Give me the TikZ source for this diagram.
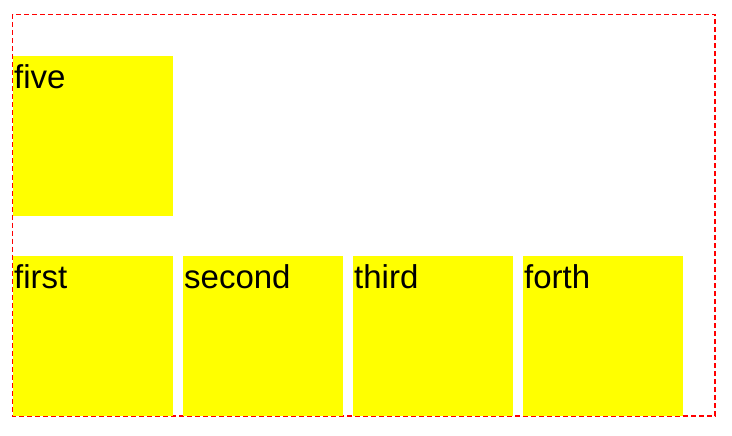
\documentclass[tikz,border=0pt]{standalone}
\usepackage{fontspec}
\setmainfont{Liberation Sans}
\definecolor{boxyellow}{RGB}{255,255,0}
\definecolor{borderred}{RGB}{255,0,0}
\begin{document}
\begin{tikzpicture}[x=1pt,y=-1pt,
    item/.style={fill=boxyellow, minimum width=160pt, minimum height=160pt,
        inner sep=0pt, anchor=north west},
    caption/.style={anchor=north west, inner sep=0pt,
        font=\fontsize{33}{33}\selectfont}]
        \useasboundingbox (0,0) rectangle (732,436);

        % Draw the container
        \draw[borderred, line width=1.8pt, dash pattern=on 5pt off 3pt]
            (12.5,14.5) rectangle (715,416);

        % Draw the floated box
        \node[item] (five) at (13,56) {};
        \node[caption] (fivetext) at ([xshift=1pt,yshift=-8pt]five.north west) {five};

        % Draw the row of boxes
        \foreach \name [count=\i from 0] in {first,second,third,forth} {
            \node[item] (\name) at (13+170*\i,256) {};
            \node[caption] (\name text) at ([xshift=1pt,yshift=-8pt]\name.north west) {\name};
        }
    \end{tikzpicture}
\end{document}
